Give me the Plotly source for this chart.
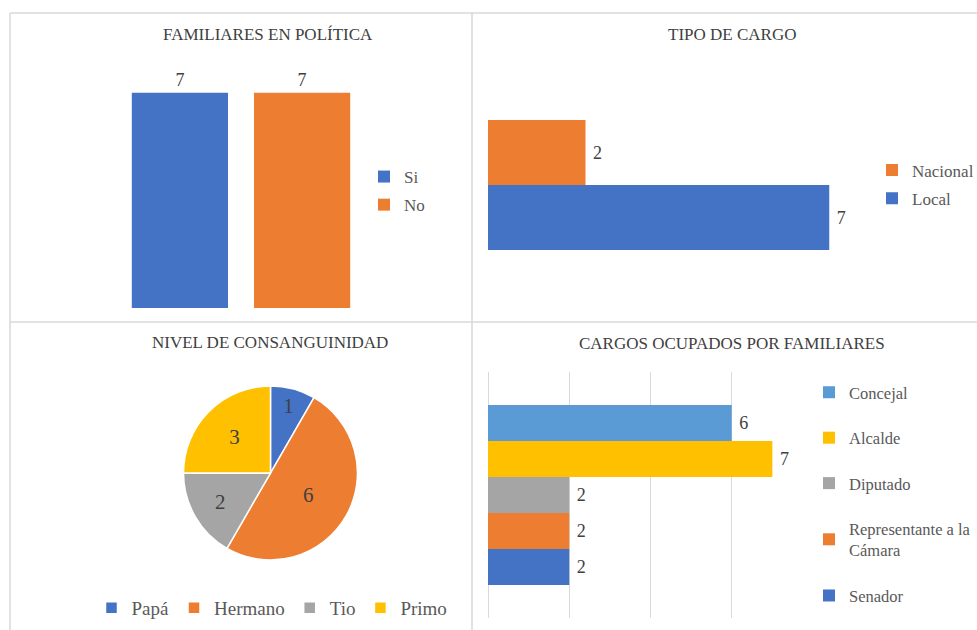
import plotly.graph_objects as go

# ---------------- data ----------------
fam_series = ["Si", "No"]
fam_values = [7, 7]

tipo_series = ["Nacional", "Local"]
tipo_values = [2, 7]

cons_labels = ["Papá", "Hermano", "Tio", "Primo"]
cons_values = [1, 6, 2, 3]

cargo_series = ["Concejal", "Alcalde", "Diputado", "Representante a la<br>Cámara", "Senador"]
cargo_values = [6, 7, 2, 2, 2]

titles = ["FAMILIARES EN POLÍTICA", "TIPO DE CARGO", "NIVEL DE CONSANGUINIDAD", "CARGOS OCUPADOS POR FAMILIARES"]

# ---------------- style ----------------
W, H = 977, 630
FONT = "Liberation Serif, Times New Roman, serif"
BLUE, ORANGE, GRAY, YELLOW, LBLUE = "#4472C4", "#ED7D31", "#A5A5A5", "#FFC000", "#5B9BD5"
TXT = "#404040"
LEG = "#595959"
BORDER = "#d9d9d9"

def px(x):
    return x / W

def py(y):
    return 1 - y / H

fig = go.Figure()

# ---- chart 1: vertical clustered bars ----
fam_colors = [BLUE, ORANGE]
w1, g1 = 0.37, 0.10
for i, (s, v) in enumerate(zip(fam_series, fam_values)):
    fig.add_trace(go.Bar(
        x=["Familiares"], y=[v], name=s, marker=dict(color=fam_colors[i], line=dict(width=0)),
        width=w1, offset=-(w1 + g1 / 2) + i * (w1 + g1),
        text=[v], textposition="outside", constraintext="none", cliponaxis=False,
        textfont=dict(family=FONT, size=18, color=TXT),
        xaxis="x", yaxis="y", legend="legend", legendgroup="f" + s, hoverinfo="skip"))

# ---- chart 2: horizontal clustered bars ----
tipo_colors = [ORANGE, BLUE]
w2 = 0.325
for i, (s, v) in enumerate(zip(tipo_series, tipo_values)):
    fig.add_trace(go.Bar(
        y=["Tipo"], x=[v], name=s, orientation="h", marker=dict(color=tipo_colors[i], line=dict(width=0)),
        width=w2, offset=(len(tipo_series) / 2 - 1 - i) * w2,
        text=[v], texttemplate="\u00a0%{text}", textposition="outside", constraintext="none",
        cliponaxis=False, textfont=dict(family=FONT, size=18, color=TXT),
        xaxis="x2", yaxis="y2", legend="legend2", legendgroup="t" + s, hoverinfo="skip"))

# ---- chart 4: horizontal clustered bars ----
cargo_colors = [LBLUE, YELLOW, GRAY, ORANGE, BLUE]
w3 = 0.1463
n3 = len(cargo_series)
for i, (s, v) in enumerate(zip(cargo_series, cargo_values)):
    fig.add_trace(go.Bar(
        y=["Cargos"], x=[v], name=s, orientation="h", marker=dict(color=cargo_colors[i], line=dict(width=0)),
        width=w3, offset=(n3 / 2 - 1 - i) * w3,
        text=[v], texttemplate="\u00a0%{text}", textposition="outside", constraintext="none",
        cliponaxis=False, textfont=dict(family=FONT, size=18, color=TXT),
        xaxis="x3", yaxis="y3", legend="legend3", legendgroup="c" + str(i), hoverinfo="skip"))

# ---- chart 3: pie ----
fig.add_trace(go.Pie(
    labels=cons_labels, values=cons_values, sort=False, direction="clockwise", rotation=0,
    marker=dict(colors=[BLUE, ORANGE, GRAY, YELLOW], line=dict(color="white", width=1.5)),
    textinfo="value", textposition="inside", insidetextorientation="horizontal",
    textfont=dict(family=FONT, size=21, color=TXT),
    domain=dict(x=[px(183), px(358)], y=[py(560), py(386)]),
    legend="legend4", hoverinfo="skip"))

hidden = dict(showgrid=False, zeroline=False, showticklabels=False, showline=False, ticks="")

fig.update_layout(
    width=W, height=H, autosize=False, margin=dict(l=0, r=0, t=0, b=0, autoexpand=False),
    paper_bgcolor="white", plot_bgcolor="white",
    barmode="overlay",
    font=dict(family=FONT, color=TXT),
    xaxis=dict(domain=[px(111), px(371)], range=[-0.5, 0.5], type="category", anchor="y", **hidden),
    yaxis=dict(domain=[py(308), py(62)], range=[0, 8], anchor="x", **hidden),
    xaxis2=dict(domain=[px(488), px(878)], range=[0, 8], anchor="y2", **hidden),
    yaxis2=dict(domain=[py(285), py(85)], range=[-0.5, 0.5], type="category", anchor="x2", **hidden),
    xaxis3=dict(domain=[px(488), px(813)], range=[0, 8], anchor="y3", dtick=2, tick0=0,
                showgrid=True, gridcolor=BORDER, gridwidth=1, zeroline=True, zerolinecolor=BORDER,
                zerolinewidth=1, showticklabels=False, showline=False, ticks=""),
    yaxis3=dict(domain=[py(618), py(372)], range=[-0.5, 0.5], type="category", anchor="x3", **hidden),
    legend=dict(x=px(364), y=py(191), xanchor="left", yanchor="middle", bgcolor="rgba(0,0,0,0)",
                font=dict(family=FONT, size=17, color=LEG), tracegroupgap=3, traceorder="grouped"),
    legend2=dict(x=px(872), y=py(184.5), xanchor="left", yanchor="middle", bgcolor="rgba(0,0,0,0)",
                 font=dict(family=FONT, size=17, color=LEG), tracegroupgap=3, traceorder="grouped"),
    legend3=dict(x=px(809), y=py(375), xanchor="left", yanchor="top", bgcolor="rgba(0,0,0,0)",
                 font=dict(family=FONT, size=16.5, color=LEG), tracegroupgap=21, traceorder="grouped"),
    legend4=dict(x=px(272), y=py(608), xanchor="center", yanchor="middle", orientation="h",
                 bgcolor="rgba(0,0,0,0)", font=dict(family=FONT, size=19, color=LEG)),
    showlegend=True,
)

# titles
title_pos = [(268, 34), (732, 34), (270, 342), (732, 344)]
for t, (tx, ty) in zip(titles, title_pos):
    fig.add_annotation(text=t, x=px(tx), y=py(ty), xref="paper", yref="paper",
                       xanchor="center", yanchor="middle", showarrow=False,
                       font=dict(family=FONT, size=17, color=TXT))

# panel borders
lines = [(10, 13, 977, 13), (10, 13, 10, 630), (472, 13, 472, 630), (10, 322, 977, 322)]
for x0, y0, x1, y1 in lines:
    fig.add_shape(type="line", xref="paper", yref="paper", x0=px(x0), y0=py(y0), x1=px(x1), y1=py(y1),
                  line=dict(color=BORDER, width=1.5))

fig.write_html("out.html",
               config={"displayModeBar": False, "responsive": False},
               post_script="document.body.style.margin='0';document.body.style.overflow='hidden';")
